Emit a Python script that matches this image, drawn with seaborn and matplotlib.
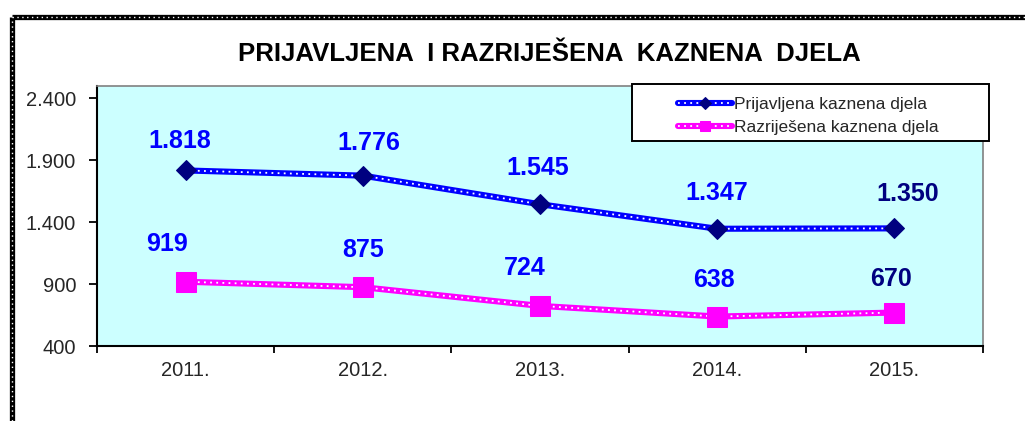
import numpy as np
import pandas as pd
import matplotlib
matplotlib.use("Agg")
import matplotlib.pyplot as plt
import seaborn as sns
from matplotlib.lines import Line2D
from matplotlib.patches import Rectangle
from matplotlib.legend_handler import HandlerTuple

# ---- data ----
years = ["2011.", "2012.", "2013.", "2014.", "2015."]
prijavljena = [1818, 1776, 1545, 1347, 1350]
razrijesena = [919, 875, 724, 638, 670]
prijavljena_labels = ["1.818", "1.776", "1.545", "1.347", "1.350"]
razrijesena_labels = ["919", "875", "724", "638", "670"]
series_names = ["Prijavljena kaznena djela", "Razriješena kaznena djela"]
ytick_values = [400, 900, 1400, 1900, 2400]
ytick_labels = ["400", "900", "1.400", "1.900", "2.400"]
title = "PRIJAVLJENA  I RAZRIJEŠENA  KAZNENA  DJELA"

sns.set_style("ticks")
plt.rcParams["font.family"] = ["Liberation Sans", "DejaVu Sans"]

W, H = 1025, 421
fig = plt.figure(figsize=(W / 100, H / 100), dpi=100)
ax = fig.add_axes([97 / W, 1 - 346 / H, (983 - 97) / W, (346 - 86) / H])
ax.set_facecolor("#CCFFFF")

pos = np.arange(len(years))
df = pd.DataFrame({"pos": pos, "p": prijavljena, "r": razrijesena})

dots_ls = (0, (1, 2.4))
handles = []
for col, color, mk, ms, mcol in [("p", "#0000FF", "D", 10.5, "#000080"),
                                 ("r", "#FF00FF", "s", 14, "#FF00FF")]:
    sns.lineplot(data=df, x="pos", y=col, ax=ax, color=color, lw=4.4, zorder=3)
    l_main = ax.lines[-1]
    sns.lineplot(data=df, x="pos", y=col, ax=ax, color="white", lw=1.3,
                 linestyle=dots_ls, zorder=4)
    l_dots = ax.lines[-1]
    sns.lineplot(data=df, x="pos", y=col, ax=ax, color=mcol, linestyle="none",
                 marker=mk, markersize=ms, markeredgecolor=mcol,
                 markerfacecolor=mcol, zorder=5)
    l_mk = ax.lines[-1]
    handles.append((l_main, l_dots, l_mk))

# data labels (pixel offsets)
p_off = [(-6, 29), (6, 33), (-2, 36), (0, 36), (13, 34)]
r_off = [(-19, 38), (0, 37), (-15, 38), (-3, 37), (-3, 34)]
p_cols = ["#0000FF"] * 4 + ["#000080"]
r_cols = ["#0000FF"] * 4 + ["#000080"]
for i in range(len(years)):
    ax.annotate(prijavljena_labels[i], (pos[i], prijavljena[i]),
                xytext=(p_off[i][0] * 0.72, p_off[i][1] * 0.72), textcoords="offset points",
                ha="center", va="center", fontsize=18, fontweight="bold",
                color=p_cols[i], zorder=6)
    ax.annotate(razrijesena_labels[i], (pos[i], razrijesena[i]),
                xytext=(r_off[i][0] * 0.72, r_off[i][1] * 0.72), textcoords="offset points",
                ha="center", va="center", fontsize=18, fontweight="bold",
                color=r_cols[i], zorder=6)

ax.set_xlim(-0.5, len(years) - 0.5)
ax.set_ylim(400, 2500)
ax.set_xticks(np.arange(len(years) + 1) - 0.5)
ax.set_xticklabels([])
ax.set_xticks(pos, minor=True)
ax.set_xticklabels(years, minor=True, fontsize=14.5)
ax.tick_params(axis="x", which="minor", length=0, pad=11)
ax.tick_params(axis="x", which="major", length=5, width=1.3, direction="out", color="black")
ax.set_yticks(ytick_values)
ax.set_yticklabels(ytick_labels, fontsize=14.5)
ax.tick_params(axis="y", length=6, width=1.3, direction="out", pad=9, color="black")
ax.set_xlabel("")
ax.set_ylabel("")
for s in ["left", "bottom"]:
    ax.spines[s].set_color("black")
    ax.spines[s].set_linewidth(1.5)
for s in ["top", "right"]:
    ax.spines[s].set_visible(True)
    ax.spines[s].set_color("#808080")
    ax.spines[s].set_linewidth(1.2)

# title
fig.text(549 / W, 1 - 54 / H, title, ha="center", va="center",
         fontsize=18.5, fontweight="bold", color="black")

# legend box
fig.add_artist(Rectangle((632 / W, 1 - 141 / H), (989 - 632) / W, (141 - 84) / H,
                         transform=fig.transFigure, facecolor="white",
                         edgecolor="black", lw=1.4, zorder=10))
leg = fig.legend(handles, series_names, loc="upper left",
                 bbox_to_anchor=(666 / W, 1 - 85 / H), frameon=False,
                 fontsize=12.5, handlelength=3.1, handletextpad=0.12,
                 labelspacing=0.45, borderpad=0.2, markerscale=0.55,
                 handler_map={tuple: HandlerTuple(ndivide=1, pad=0)})
leg.set_zorder(11)

# figure border (dashed look)
bx, by = 12 / W, 1 - 17 / H
for lw, col, ls in [(3.8, "black", "-"), (1.0, "white", (0, (1, 2.5)))]:
    fig.add_artist(Line2D([bx, bx], [0, by], transform=fig.transFigure,
                          color=col, lw=lw, linestyle=ls, solid_capstyle="butt", zorder=12))
    fig.add_artist(Line2D([bx, 1.0], [by, by], transform=fig.transFigure,
                          color=col, lw=lw, linestyle=ls, solid_capstyle="butt", zorder=12))

fig.savefig("out.png", dpi=100)
